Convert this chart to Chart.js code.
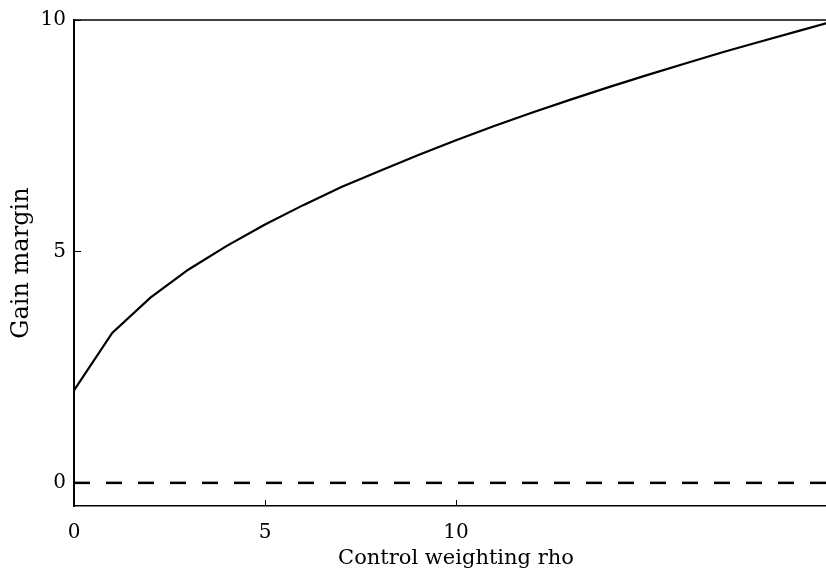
<!DOCTYPE html>
<html>
<head>
<meta charset="utf-8">
<script src="https://cdn.jsdelivr.net/npm/chart.js@4/dist/chart.umd.min.js"></script>
<style>
  html, body { margin: 0; padding: 0; background: #fff; overflow: hidden; }
  #wrap { width: 826px; height: 577px; overflow: hidden; }
</style>
</head>
<body>
<div id="wrap"><canvas id="myChart" width="850" height="577"></canvas></div>
<script>
// control weighting rho (x) and gain margin
const rho = [0, 1, 2, 3, 4, 5, 6, 7, 8, 9, 10, 11, 12, 13, 14, 15, 16, 17, 18, 19, 20];
const gainMargin = [2.0, 3.24, 4.0, 4.61, 5.12, 5.58, 6.0, 6.39, 6.74, 7.08, 7.4, 7.71, 8.0, 8.28, 8.55, 8.81, 9.06, 9.31, 9.54, 9.77, 10.0];
const zeroLine = [0, 0];
const zeroLineX = [0, 20];
const xTicks = [0, 5, 10];
const yTicks = [0, 5, 10];

const serif = "'DejaVu Serif', serif";

// inward tick marks and the top border
const frame = {
  id: 'frame',
  afterDraw(chart) {
    const ctx = chart.ctx;
    const a = chart.chartArea;
    const x = chart.scales.x, y = chart.scales.y;
    ctx.save();
    ctx.strokeStyle = '#000';
    ctx.lineWidth = 1.5;
    ctx.beginPath();
    ctx.moveTo(a.left, a.top);
    ctx.lineTo(a.right, a.top);
    ctx.stroke();
    ctx.lineWidth = 1;
    ctx.beginPath();
    xTicks.forEach(v => {
      const px = Math.round(x.getPixelForValue(v)) + 0.5;
      ctx.moveTo(px, a.bottom);
      ctx.lineTo(px, a.bottom - 6);
    });
    yTicks.forEach(v => {
      const py = Math.round(y.getPixelForValue(v)) + 0.5;
      ctx.moveTo(a.left, py);
      ctx.lineTo(a.left + 7, py);
    });
    ctx.stroke();
    ctx.restore();
  }
};

new Chart(document.getElementById('myChart'), {
  type: 'line',
  data: {
    datasets: [
      {
        data: rho.map((r, i) => ({ x: r, y: gainMargin[i] })),
        borderColor: '#000',
        borderWidth: 2.2,
        pointRadius: 0,
        tension: 0,
        clip: false
      },
      {
        data: zeroLineX.map((r, i) => ({ x: r, y: zeroLine[i] })),
        borderColor: '#000',
        borderWidth: 2.5,
        borderDash: [16, 16],
        pointRadius: 0
      }
    ]
  },
  options: {
    responsive: false,
    animation: false,
    events: [],
    layout: { padding: { top: 13, right: 12, bottom: 0, left: 0 } },
    plugins: { legend: { display: false }, tooltip: { enabled: false } },
    scales: {
      x: {
        type: 'linear',
        min: 0,
        max: 20,
        afterBuildTicks: s => { s.ticks = xTicks.map(v => ({ value: v })); },
        afterFit: s => { s.height = 71; },
        grid: { display: false, drawTicks: false },
        border: { display: true, color: '#000', width: 1.5 },
        ticks: { color: '#000', padding: 15, maxRotation: 0, font: { family: serif, size: 20 } },
        title: {
          display: true,
          text: 'Control weighting rho',
          color: '#000',
          padding: { top: 0, bottom: 6 },
          font: { family: serif, size: 21 }
        }
      },
      y: {
        min: -0.5,
        max: 10,
        afterBuildTicks: s => { s.ticks = yTicks.map(v => ({ value: v })); },
        afterFit: s => { s.width = 74; },
        grid: { display: false, drawTicks: false },
        border: { display: true, color: '#000', width: 2 },
        ticks: { color: '#000', padding: 8, font: { family: serif, size: 20 } },
        title: {
          display: true,
          text: 'Gain margin',
          color: '#000',
          padding: { top: 7, bottom: 0 },
          font: { family: serif, size: 24 }
        }
      }
    }
  },
  plugins: [frame]
});
</script>
</body>
</html>
